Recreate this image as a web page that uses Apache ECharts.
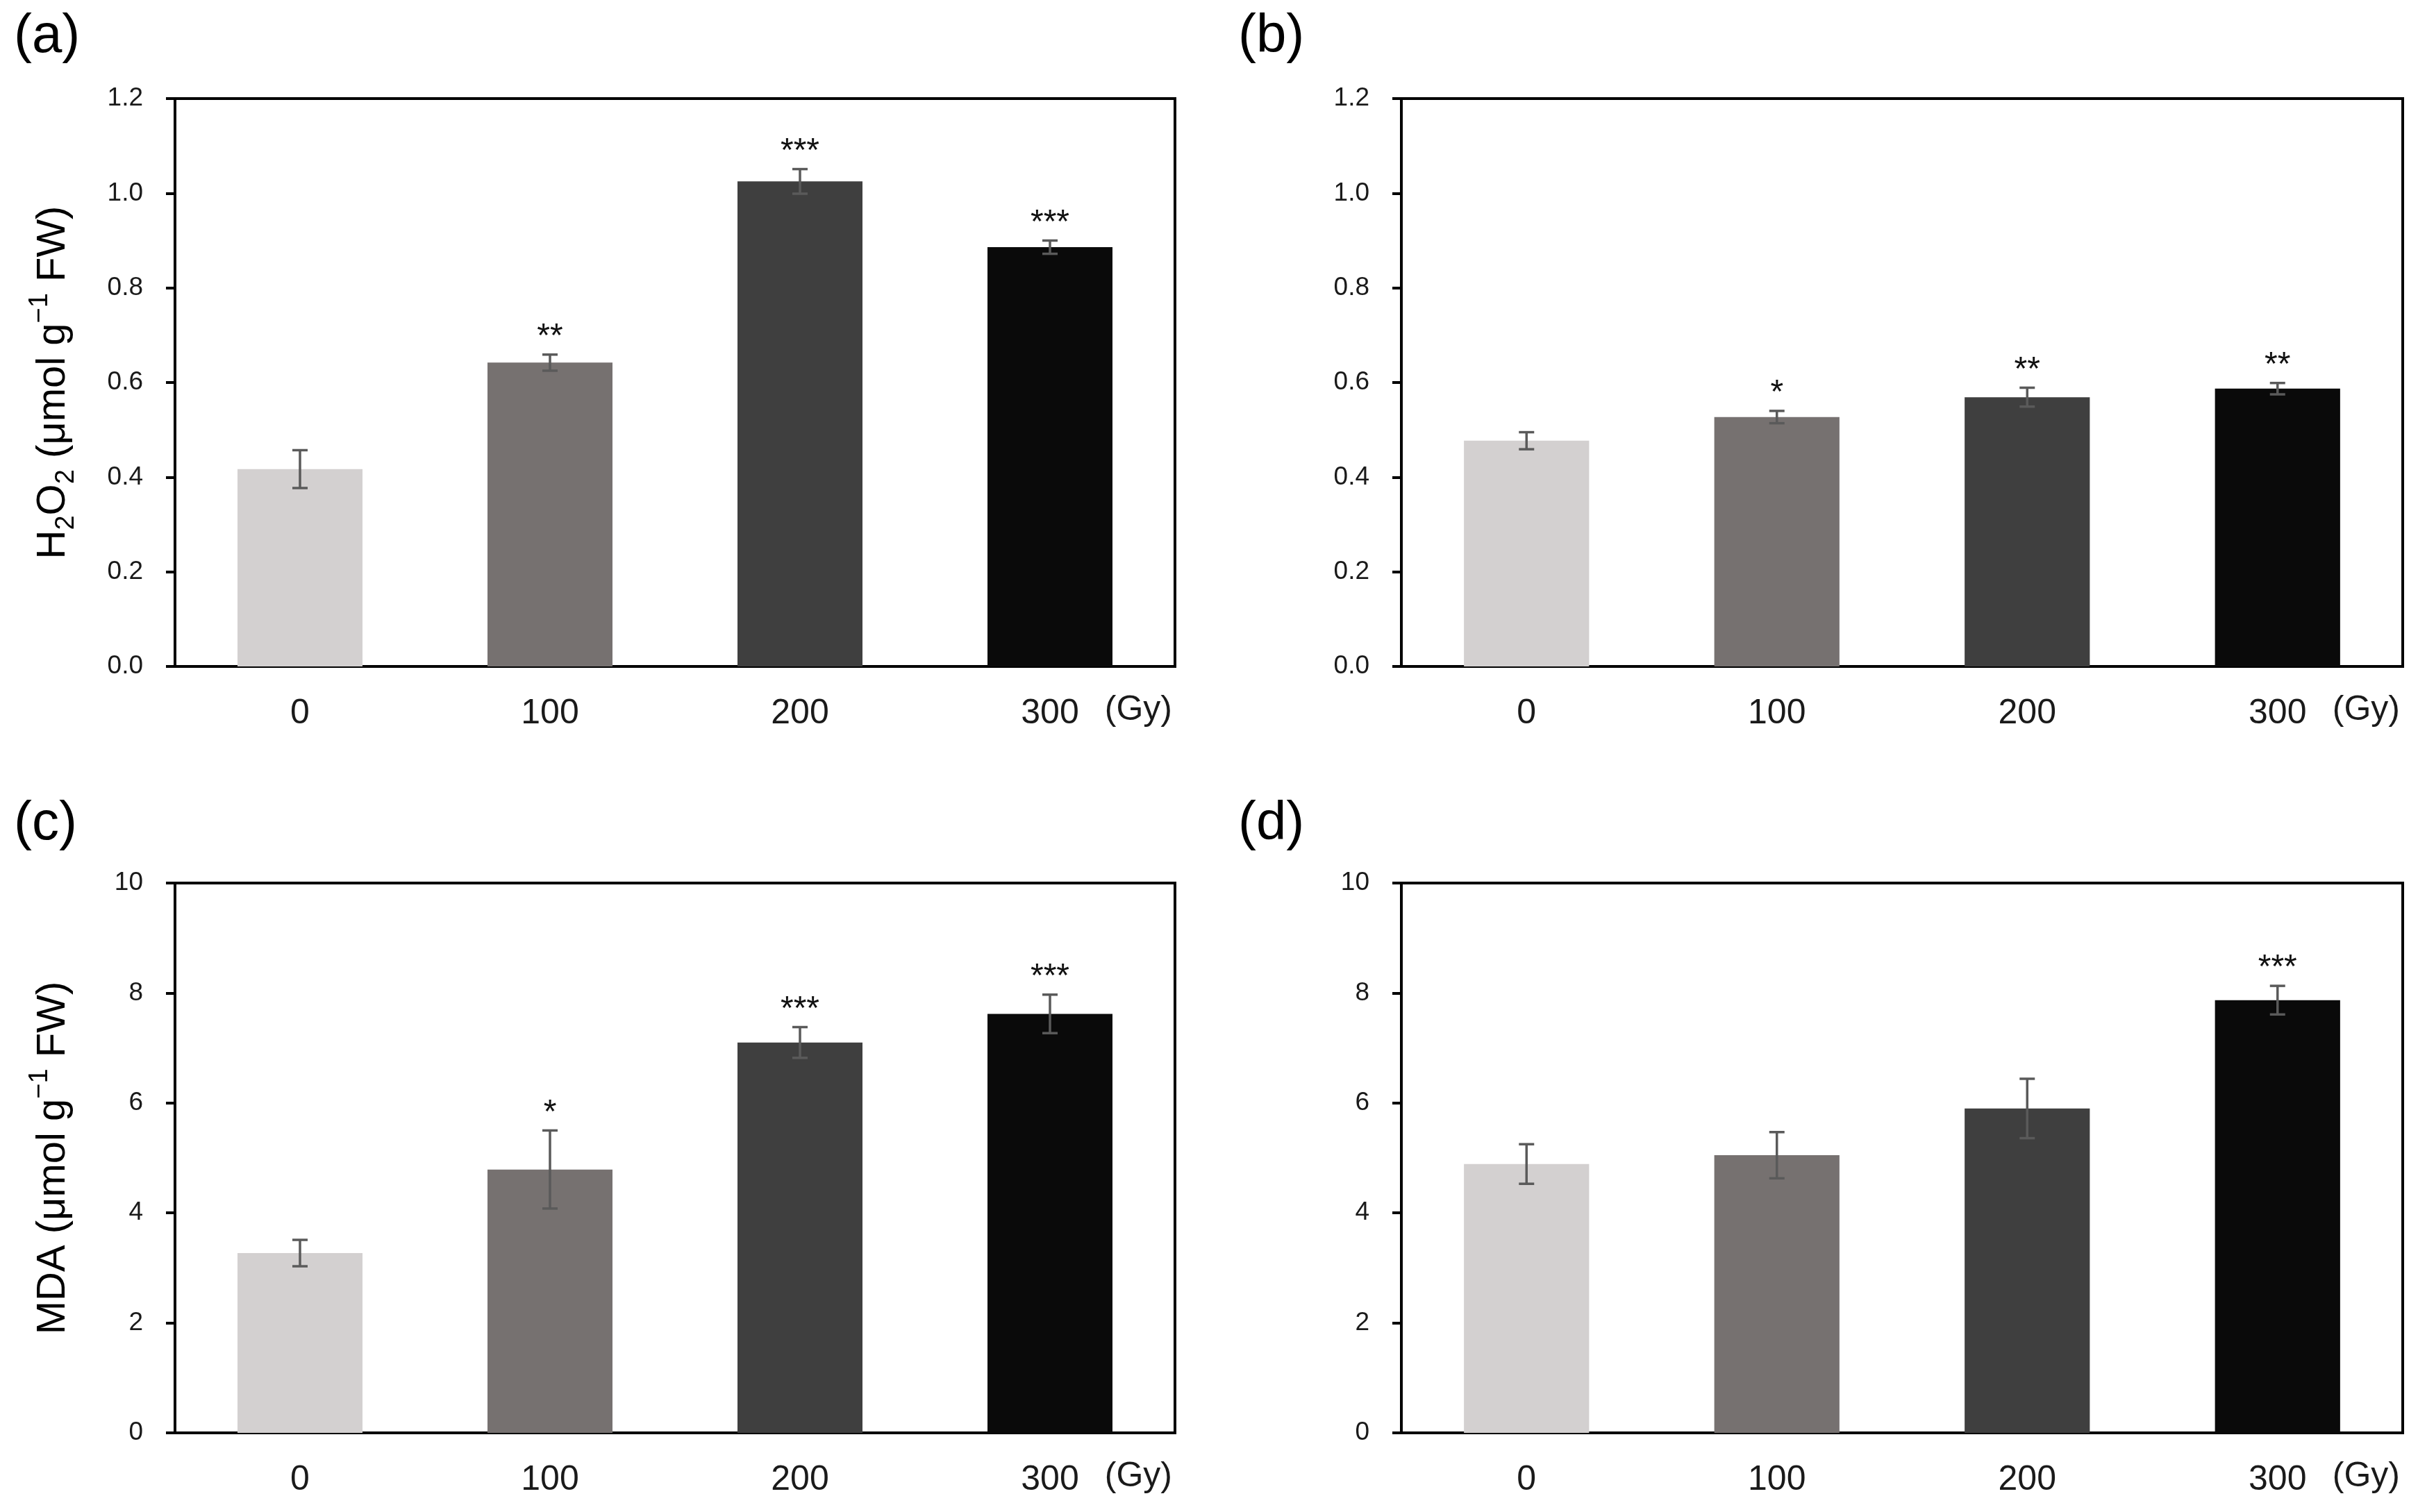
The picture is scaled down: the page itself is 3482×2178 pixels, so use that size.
<!DOCTYPE html>
<html>
<head>
<meta charset="utf-8">
<script src="https://cdn.jsdelivr.net/npm/echarts@6/dist/echarts.min.js"></script>
<style>
html,body{margin:0;padding:0;background:#fff;}
#chart{width:3482px;height:2178px;}
</style>
</head>
<body>
<div id="chart"></div>
<script>
// ---- Data ----
var doseLabels = ['0', '100', '200', '300'];

var h2o2LeafMean = [0.417, 0.642, 1.025, 0.886];
var h2o2LeafErr  = [0.040, 0.017, 0.026, 0.014];
var h2o2LeafSig  = ['', '**', '***', '***'];

var h2o2RootMean = [0.477, 0.527, 0.569, 0.587];
var h2o2RootErr  = [0.018, 0.013, 0.020, 0.012];
var h2o2RootSig  = ['', '*', '**', '**'];

var mdaLeafMean = [3.27, 4.79, 7.10, 7.62];
var mdaLeafErr  = [0.24, 0.71, 0.28, 0.35];
var mdaLeafSig  = ['', '*', '***', '***'];

var mdaRootMean = [4.89, 5.05, 5.90, 7.87];
var mdaRootErr  = [0.36, 0.42, 0.54, 0.26];
var mdaRootSig  = ['', '', '', '***'];

var h2o2Ticks = { min: 0, max: 1.2, interval: 0.2, decimals: 1 };
var mdaTicks  = { min: 0, max: 10, interval: 2, decimals: 0 };

var panelLetters = ['(a)', '(b)', '(c)', '(d)'];
var unitLabel = '(Gy)';

// ---- Styles ----
var barColors = ['#d3d0d0', '#767170', '#3f3f3f', '#0a0a0a'];
var FONT = "'Liberation Sans', Arial, Helvetica, sans-serif";

var grids = [
  { left: 252, top: 142, width: 1440, height: 818 },
  { left: 2018, top: 142, width: 1442, height: 818 },
  { left: 252, top: 1272, width: 1440, height: 792 },
  { left: 2018, top: 1272, width: 1442, height: 792 }
];

var panels = [
  { mean: h2o2LeafMean, err: h2o2LeafErr, sig: h2o2LeafSig, ticks: h2o2Ticks, name: 'h2o2' },
  { mean: h2o2RootMean, err: h2o2RootErr, sig: h2o2RootSig, ticks: h2o2Ticks, name: null },
  { mean: mdaLeafMean, err: mdaLeafErr, sig: mdaLeafSig, ticks: mdaTicks, name: 'mda' },
  { mean: mdaRootMean, err: mdaRootErr, sig: mdaRootSig, ticks: mdaTicks, name: null }
];

var richName = {
  a: { fontSize: 58, fontFamily: FONT, color: '#000', lineHeight: 76 },
  s: { fontSize: 38, fontFamily: FONT, color: '#000', lineHeight: 40, verticalAlign: 'bottom' },
  p: { fontSize: 38, fontFamily: FONT, color: '#000', lineHeight: 40, verticalAlign: 'top' }
};
var nameTexts = {
  h2o2: '{a|H}{s|2}{a|O}{s|2}{a| (μmol g}{p|−1}{a| FW)}',
  mda: '{a|MDA (μmol g}{p|−1}{a| FW)}'
};

var option = {
  backgroundColor: '#fff',
  animation: false,
  grid: [], xAxis: [], yAxis: [], series: [], graphic: []
};

panels.forEach(function (p, i) {
  var g = grids[i];
  option.grid.push({
    left: g.left, top: g.top, width: g.width, height: g.height,
    show: true, borderColor: '#000', borderWidth: 4, backgroundColor: 'transparent'
  });
  option.xAxis.push({
    type: 'category', gridIndex: i, data: doseLabels,
    axisLine: { lineStyle: { color: '#000', width: 4 } },
    axisTick: { show: false },
    axisLabel: { fontSize: 50, fontFamily: FONT, color: '#1a1a1a', margin: 43 },
    splitLine: { show: false }
  });
  var ya = {
    type: 'value', gridIndex: i,
    min: p.ticks.min, max: p.ticks.max, interval: p.ticks.interval,
    axisLine: { show: true, lineStyle: { color: '#000', width: 4 } },
    axisTick: { show: true, inside: false, length: 13, lineStyle: { color: '#000', width: 4 } },
    axisLabel: {
      fontSize: 37, fontFamily: FONT, color: '#1a1a1a', margin: 46,
      formatter: (function (d) { return function (v) { return v.toFixed(d); }; })(p.ticks.decimals)
    },
    splitLine: { show: false }
  };
  if (p.name) {
    ya.name = nameTexts[p.name];
    ya.nameLocation = 'middle';
    ya.nameRotate = 90;
    ya.nameGap = 137;
    ya.nameTextStyle = { rich: richName, fontFamily: FONT };
  }
  option.yAxis.push(ya);

  option.series.push({
    type: 'bar', xAxisIndex: i, yAxisIndex: i, barWidth: '50%',
    data: p.mean.map(function (v, k) { return { value: v, itemStyle: { color: barColors[k] } }; }),
    z: 2
  });
  option.series.push({
    type: 'custom', xAxisIndex: i, yAxisIndex: i, z: 3,
    data: p.mean.map(function (v, k) { return [k, v, p.err[k]]; }),
    encode: { x: 0, y: 1 },
    renderItem: function (params, api) {
      var x = api.value(0), m = api.value(1), e = api.value(2);
      var hi = api.coord([x, m + e]);
      var lo = api.coord([x, m - e]);
      var hw = 11;
      var st = { stroke: '#5a5a5a', lineWidth: 3.5 };
      return {
        type: 'group',
        children: [
          { type: 'line', shape: { x1: hi[0], y1: hi[1], x2: lo[0], y2: lo[1] }, style: st },
          { type: 'line', shape: { x1: hi[0] - hw, y1: hi[1], x2: hi[0] + hw, y2: hi[1] }, style: st },
          { type: 'line', shape: { x1: lo[0] - hw, y1: lo[1], x2: lo[0] + hw, y2: lo[1] }, style: st }
        ]
      };
    }
  });
  option.series.push({
    type: 'scatter', xAxisIndex: i, yAxisIndex: i, z: 4,
    symbolSize: 2, itemStyle: { color: 'rgba(0,0,0,0)' },
    data: p.mean.map(function (v, k) { return [k, v + p.err[k]]; }),
    label: {
      show: true, position: 'top', distance: 0,
      fontSize: 48, fontFamily: FONT, color: '#111', opacity: 1,
      formatter: (function (sig) { return function (prm) { return sig[prm.dataIndex]; }; })(p.sig)
    }
  });

  // panel letter
  option.graphic.push({
    type: 'text', left: (i % 2 === 0) ? 20 : 1783, top: (i < 2) ? 14 : 1148,
    style: { text: panelLetters[i], font: '78px ' + FONT, fill: '#000' }
  });
  // unit label
  option.graphic.push({
    type: 'text', right: 3482 - (g.left + g.width) + 4, top: g.top + g.height + 38,
    style: { text: unitLabel, font: '50px ' + FONT, fill: '#1a1a1a' }
  });
});

var chart = echarts.init(document.getElementById('chart'));
chart.setOption(option);
</script>
</body>
</html>
